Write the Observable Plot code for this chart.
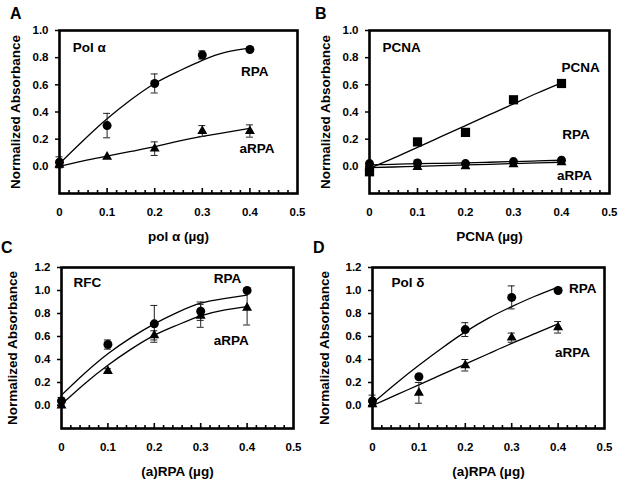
<!DOCTYPE html>
<html>
<head>
<meta charset="utf-8">
<script src="https://cdn.jsdelivr.net/npm/d3@7"></script>
<script src="https://cdn.jsdelivr.net/npm/@observablehq/plot@0.6"></script>
<style>
  html, body { margin: 0; padding: 0; background: #fff; }
  #root { position: relative; width: 624px; height: 489px; background: #fff; font-family: "Liberation Sans", Arial, sans-serif; }
  .panel { position: absolute; }
  .letter { position: absolute; font-weight: bold; font-size: 16px; font-family: "Liberation Sans", Arial, sans-serif; }
</style>
</head>
<body>
<div id="root"></div>
<script>
// ---- shared ----
const doses = [0, 0.1, 0.2, 0.3, 0.4];
const fitDoses = [0, 0.05, 0.1, 0.15, 0.2, 0.25, 0.3, 0.35, 0.4];
const xTicks = [0, 0.1, 0.2, 0.3, 0.4, 0.5];
const yTicksAB = [0, 0.2, 0.4, 0.6, 0.8, 1.0];
const yTicksCD = [0, 0.2, 0.4, 0.6, 0.8, 1.0, 1.2];
const minorTicks = [0.02,0.04,0.06,0.08,0.12,0.14,0.16,0.18,0.22,0.24,0.26,0.28,0.32,0.34,0.36,0.38,0.42,0.44,0.46,0.48];
const majorTicks = [0.1, 0.2, 0.3, 0.4];

// ---- Panel A: Pol alpha ----
const aRpa      = [0.03, 0.30, 0.61, 0.82, 0.86];
const aRpaErr   = [0.04, 0.09, 0.07, 0.03, 0];
const aRpaFit   = [0.02, 0.19, 0.35, 0.49, 0.61, 0.70, 0.78, 0.84, 0.87];
const aArpa     = [0.01, 0.07, 0.13, 0.26, 0.26];
const aArpaErr  = [0.02, 0, 0.05, 0.04, 0.045];
const aArpaFit  = [0.0, 0.04, 0.075, 0.11, 0.145, 0.185, 0.22, 0.25, 0.28];

// ---- Panel B: PCNA ----
const bPcna     = [-0.04, 0.18, 0.25, 0.49, 0.61];
const bPcnaFit  = [-0.015, 0.06, 0.14, 0.22, 0.30, 0.38, 0.46, 0.54, 0.615];
const bRpa      = [0.02, 0.025, 0.02, 0.035, 0.045];
const bRpaErr   = [0, 0.02, 0, 0, 0];
const bRpaFit   = [0.01, 0.015, 0.02, 0.022, 0.025, 0.03, 0.035, 0.04, 0.045];
const bArpa     = [-0.01, -0.005, 0.0, 0.015, 0.03];
const bArpaFit  = [-0.01, -0.005, 0.0, 0.005, 0.01, 0.015, 0.02, 0.025, 0.03];

// ---- Panel C: RFC ----
const cRpa      = [0.04, 0.53, 0.71, 0.82, 1.0];
const cRpaErr   = [0.03, 0.04, 0.16, 0.08, 0];
const cRpaFit   = [0.09, 0.28, 0.45, 0.59, 0.71, 0.81, 0.89, 0.93, 0.96];
const cArpa     = [0.0, 0.30, 0.61, 0.78, 0.85];
const cArpaErr  = [0, 0.02, 0.04, 0.10, 0.15];
const cArpaFit  = [0.01, 0.19, 0.35, 0.49, 0.61, 0.70, 0.78, 0.83, 0.86];

// ---- Panel D: Pol delta ----
const dRpa      = [0.04, 0.25, 0.66, 0.94, 1.0];
const dRpaErr   = [0.05, 0, 0.06, 0.10, 0];
const dRpaFit   = [0.02, 0.19, 0.35, 0.50, 0.64, 0.76, 0.86, 0.95, 1.03];
const dArpa     = [0.01, 0.11, 0.35, 0.59, 0.68];
const dArpaErr  = [0, 0.09, 0.05, 0.04, 0.05];
const dArpaFit  = [0.0, 0.09, 0.18, 0.27, 0.36, 0.45, 0.54, 0.625, 0.71];

const panels = [
  { letter: "A", left: 0, top: 0, width: 312, height: 245, mL: 59, mR: 15, mT: 30, mB: 52,
    yDomain: [-0.2, 1.0], yTicks: yTicksAB, yLabelDx: -44, xLabel: "pol α (µg)",
    series: [
      { symbol: "circle", r: 4.5, y: aRpa, err: aRpaErr, fit: aRpaFit },
      { symbol: "triangle", r: 3.7, y: aArpa, err: aArpaErr, fit: aArpaFit }
    ],
    labels: [
      { text: "Pol α", x: 0.028, y: 0.875, anchor: "start" },
      { text: "RPA", x: 0.41, y: 0.70, anchor: "middle" },
      { text: "aRPA", x: 0.415, y: 0.13, anchor: "middle" }
    ],
    letterPos: [10, 5] },
  { letter: "B", left: 312, top: 0, width: 312, height: 245, mL: 57, mR: 15, mT: 30, mB: 52,
    yDomain: [-0.2, 1.0], yTicks: yTicksAB, yLabelDx: -44, xLabel: "PCNA (µg)",
    series: [
      { symbol: "square", r: 5.2, y: bPcna, err: null, fit: bPcnaFit },
      { symbol: "circle", r: 4.5, y: bRpa, err: bRpaErr, fit: bRpaFit },
      { symbol: "triangle", r: 3.7, y: bArpa, err: null, fit: bArpaFit }
    ],
    labels: [
      { text: "PCNA", x: 0.027, y: 0.875, anchor: "start" },
      { text: "PCNA", x: 0.44, y: 0.73, anchor: "middle" },
      { text: "RPA", x: 0.43, y: 0.23, anchor: "middle" },
      { text: "aRPA", x: 0.427, y: -0.07, anchor: "middle" }
    ],
    letterPos: [3, 5] },
  { letter: "C", left: 0, top: 245, width: 312, height: 244, mL: 61, mR: 19, mT: 22, mB: 61,
    yDomain: [-0.2, 1.2], yTicks: yTicksCD, yLabelDx: -49, xLabel: "(a)RPA (µg)",
    series: [
      { symbol: "circle", r: 4.5, y: cRpa, err: cRpaErr, fit: cRpaFit },
      { symbol: "triangle", r: 3.7, y: cArpa, err: cArpaErr, fit: cArpaFit }
    ],
    labels: [
      { text: "RFC", x: 0.026, y: 1.07, anchor: "start" },
      { text: "RPA", x: 0.358, y: 1.10, anchor: "middle" },
      { text: "aRPA", x: 0.366, y: 0.565, anchor: "middle" }
    ],
    letterPos: [1, -6] },
  { letter: "D", left: 312, top: 245, width: 312, height: 244, mL: 60, mR: 20, mT: 22, mB: 61,
    yDomain: [-0.2, 1.2], yTicks: yTicksCD, yLabelDx: -48, xLabel: "(a)RPA (µg)",
    series: [
      { symbol: "circle", r: 4.5, y: dRpa, err: dRpaErr, fit: dRpaFit },
      { symbol: "triangle", r: 3.7, y: dArpa, err: dArpaErr, fit: dArpaFit }
    ],
    labels: [
      { text: "Pol δ", x: 0.041, y: 1.07, anchor: "start" },
      { text: "RPA", x: 0.453, y: 1.02, anchor: "middle" },
      { text: "aRPA", x: 0.431, y: 0.46, anchor: "middle" }
    ],
    letterPos: [1, -6] }
];

const FONT = "'Liberation Sans', Arial, Helvetica, sans-serif";
const root = document.getElementById("root");

for (const p of panels) {
  const innerH = p.height - p.mT - p.mB;
  const marks = [];
  for (const s of p.series) {
    const fitRows = fitDoses.map((x, i) => ({ x, y: s.fit[i] }));
    marks.push(Plot.line(fitRows, { x: "x", y: "y", curve: "natural", stroke: "black", strokeWidth: 1.3 }));
  }
  for (const s of p.series) {
    if (!s.err) continue;
    const rows = doses.map((x, i) => ({ x, y: s.y[i], e: s.err[i] })).filter(d => d.e > 0);
    marks.push(Plot.ruleX(rows, { x: "x", y1: d => d.y - d.e, y2: d => d.y + d.e, stroke: "#222", strokeWidth: 1 }));
    marks.push(Plot.ruleY(rows, { y: d => d.y + d.e, x1: "x", x2: "x", insetLeft: -3.5, insetRight: -3.5, stroke: "#222", strokeWidth: 1 }));
    marks.push(Plot.ruleY(rows, { y: d => d.y - d.e, x1: "x", x2: "x", insetLeft: -3.5, insetRight: -3.5, stroke: "#222", strokeWidth: 1 }));
  }
  for (const s of p.series) {
    const rows = doses.map((x, i) => ({ x, y: s.y[i] }));
    marks.push(Plot.dot(rows, { x: "x", y: "y", symbol: () => s.symbol, r: s.r, fill: "black", stroke: "none" }));
  }
  marks.push(Plot.tickX(minorTicks, { x: d => d, insetTop: innerH - 3, stroke: "black", strokeWidth: 1.6 }));
  marks.push(Plot.tickX(majorTicks, { x: d => d, insetTop: innerH - 5, stroke: "black", strokeWidth: 1.6 }));
  marks.push(Plot.frame({ stroke: "black", strokeWidth: 2.6 }));
  marks.push(Plot.axisX({ ticks: xTicks, tickSize: 0, tickPadding: 14, label: null,
    tickFormat: d => d === 0 ? "0" : d3.format(".1f")(d) }));
  marks.push(Plot.axisY({ ticks: p.yTicks, tickSize: 4, tickPadding: 7, label: null, strokeWidth: 1.5,
    tickFormat: d3.format(".1f") }));
  marks.push(Plot.text(["Normalized Absorbance"], { frameAnchor: "left", rotate: -90, dx: p.yLabelDx,
    text: d => d, fontSize: 13.5, fontWeight: "bold", textAnchor: "middle" }));
  marks.push(Plot.text([p.xLabel], { frameAnchor: "bottom", dy: 47, text: d => d,
    fontSize: 13.5, fontWeight: "bold", textAnchor: "middle" }));
  for (const l of p.labels) {
    marks.push(Plot.text([l], { x: "x", y: "y", text: "text", textAnchor: l.anchor,
      fontSize: 13.5, fontWeight: "bold" }));
  }

  const chart = Plot.plot({
    width: p.width, height: p.height,
    marginLeft: p.mL, marginRight: p.mR, marginTop: p.mT, marginBottom: p.mB,
    x: { domain: [0, 0.5] },
    y: { domain: p.yDomain },
    style: { fontFamily: FONT, fontSize: "11.5px", fontWeight: "bold", color: "black", background: "transparent", overflow: "visible" },
    marks
  });
  const div = document.createElement("div");
  div.className = "panel";
  div.style.left = p.left + "px";
  div.style.top = p.top + "px";
  div.appendChild(chart);
  root.appendChild(div);

  const let_ = document.createElement("div");
  let_.className = "letter";
  let_.textContent = p.letter;
  let_.style.left = (p.left + p.letterPos[0]) + "px";
  let_.style.top = (p.top + p.letterPos[1]) + "px";
  root.appendChild(let_);
}
</script>
</body>
</html>
